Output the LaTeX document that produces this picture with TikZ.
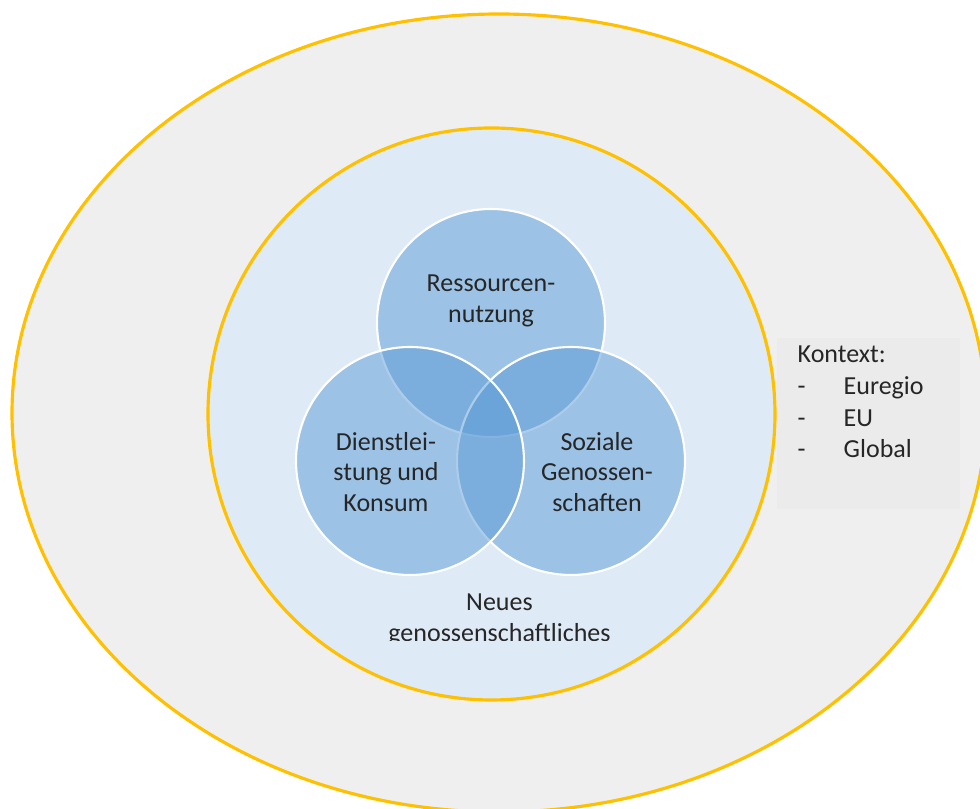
\documentclass[tikz,border=0pt]{standalone}
\usepackage{fontspec}
\setmainfont{Carlito}
\usepackage{tikz}
\usetikzlibrary{positioning}
\definecolor{ringgold}{HTML}{FFC000}
\definecolor{outergray}{HTML}{EFEFEF}
\definecolor{innerblue}{HTML}{DEEAF6}
\definecolor{vennblue}{HTML}{5B9BD5}
\definecolor{boxgray}{HTML}{EBEBEB}
\definecolor{inktext}{HTML}{262626}
\tikzset{ring/.style = {draw = ringgold, line width = 0.9pt},
         venn/.style = {circle, minimum size = 2.28cm, inner sep = 0pt,
                        draw = white, line width = 0.6pt,
                        fill = vennblue, fill opacity = 0.5},
         venntext/.style = {align = center, text = inktext, inner sep = 0pt,
                            font = \fontsize{7.4}{8.6}\selectfont},
         ctxtext/.style = {anchor = base west, text = inktext, inner sep = 0pt,
                           font = \fontsize{7.4}{8.6}\selectfont}}

\begin{document}
\begin{tikzpicture}
      \useasboundingbox (0, 0) rectangle (9.8, -8.09);
      \clip (0, 0) rectangle (9.8, -8.09);
      % rings
      \filldraw [ring, fill = outergray] (4.99, -4.13) ellipse (4.87 and 3.99);
      \filldraw [ring, fill = innerblue] (4.915, -4.14) ellipse (2.835 and 2.86);
      % venn circles
      \node [venn] (res) at (4.91, -3.23) {};
      \node [venn] (sozial) at (5.71, -4.61) {};
      \node [venn] (dienst) at (4.10, -4.61) {};
      \node [venntext] (restext) at ([yshift = 0.22cm] res.center) {Ressourcen-\\nutzung};
      \node [venntext] (diensttext) at ([xshift = -0.24cm, yshift = -0.11cm] dienst.center) {Dienstlei-\\stung und\\Konsum};
      \node [venntext] (sozialtext) at ([xshift = 0.26cm, yshift = -0.11cm] sozial.center) {Soziale\\Genossen-\\schaften};
      % cut off caption
      \begin{scope}
        \clip (3.6, -5.8) rectangle (6.4, -6.41);
        \node [venntext] (neues) at (4.995, -6.20) {Neues\\genossenschaftliches};
      \end{scope}
      % context box
      \fill [boxgray] (7.77, -3.38) rectangle (9.60, -5.09);
      \node [ctxtext] (kontext) at (7.97, -3.63) {Kontext:};
      \node [ctxtext] (dasha) at (7.97, -3.95) {-};
      \node [ctxtext] (dashb) at (7.97, -4.27) {-};
      \node [ctxtext] (dashc) at (7.97, -4.58) {-};
      \node [ctxtext] (euregio) at (8.43, -3.95) {Euregio};
      \node [ctxtext] (eu) at (8.43, -4.27) {EU};
      \node [ctxtext] (global) at (8.43, -4.58) {Global};
    \end{tikzpicture}
\end{document}
